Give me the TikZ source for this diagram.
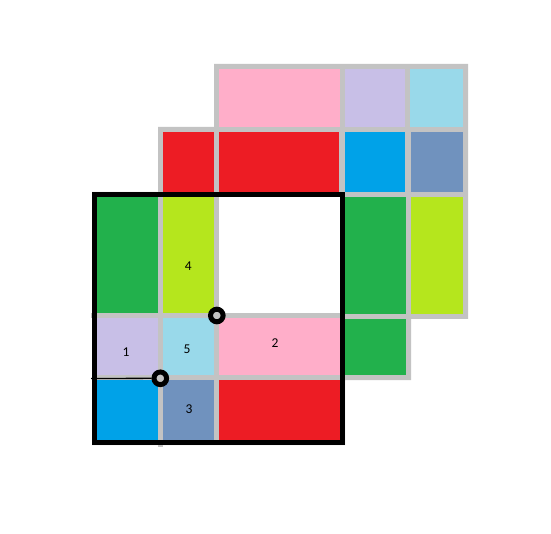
\documentclass[tikz,border=0pt]{standalone}
\usepackage{fontspec}
\setmainfont{Carlito}
\definecolor{cpink}{HTML}{FFAEC9}
\definecolor{clav}{HTML}{C8BFE7}
\definecolor{clblue}{HTML}{99D9EA}
\definecolor{cred}{HTML}{ED1C24}
\definecolor{cblue}{HTML}{00A2E8}
\definecolor{cslate}{HTML}{7092BE}
\definecolor{cgreen}{HTML}{22B14C}
\definecolor{clime}{HTML}{B5E61D}
\definecolor{cgray}{HTML}{C3C3C3}
\tikzset{
  lbl/.style={font=\fontsize{13.5}{14}\selectfont, text=black, inner sep=0pt},
  ring/.style={circle, draw=black, line width=5pt, fill=cgray, minimum size=12.6pt, inner sep=0pt},
}
\newcommand{\cell}[5]{\fill[#1] (#2,#3) rectangle (#4,#5);}
\begin{document}
\begin{tikzpicture}[x=1pt,y=-1pt]
\useasboundingbox (0,0) rectangle (551,534);
\fill[white] (0,0) rectangle (551,534);
% gray grid background
\fill[cgray] (214,64) -- (468,64) -- (468,319) -- (411,319) -- (411,380) -- (345,380) -- (345,445) -- (92,445) -- (92,192) -- (158,192) -- (158,127) -- (214,127) -- cycle;
\fill[cgray] (158,440) rectangle (163,447);
\fill[cgray] (91,313) rectangle (97,318);
% row 1
\cell{cpink}{219}{69}{340}{127}
\cell{clav}{345}{69}{405}{127}
\cell{clblue}{410}{69}{463}{127}
% row 2
\cell{cred}{163}{132}{214}{192}
\cell{cred}{219}{132}{339}{192}
\cell{cblue}{345}{132}{405}{192}
\cell{cslate}{411}{132}{463}{192}
% row 3
\cell{cgreen}{97}{197}{158}{313}
\cell{clime}{163}{197}{214}{313}
\cell{white}{219}{197}{340}{313}
\cell{cgreen}{345}{197}{406}{314}
\cell{clime}{411}{197}{463}{314}
% row 4
\cell{clav}{97}{318}{158}{375}
\cell{clblue}{163}{318}{214}{375}
\cell{cpink}{219}{318}{340}{375}
\cell{cgreen}{345}{319}{406}{375}
% row 5
\cell{cblue}{97}{380}{158}{440}
\cell{cslate}{163}{380}{214}{440}
\cell{cred}{219}{380}{340}{440}
% black frame
\draw[line width=5pt] (94.5,194.5) rectangle (342.5,442.5);
% labels
\node[lbl] (n4) at (188.3,266.5) {4};
\node[lbl] (n1) at (126,352) {1};
\node[lbl] (n5) at (187,349.5) {5};
\node[lbl] (n2) at (275,343.3) {2};
\node[lbl] (n3) at (189,409.5) {3};
% rings and thin line
\coordinate (lend) at (91,378.5);
\node[ring] (ra) at (216.8,315.5) {};
\node[ring] (rb) at (160.3,378.3) {};
\draw[line width=1.3pt] (lend) -- (rb);
\end{tikzpicture}
\end{document}
